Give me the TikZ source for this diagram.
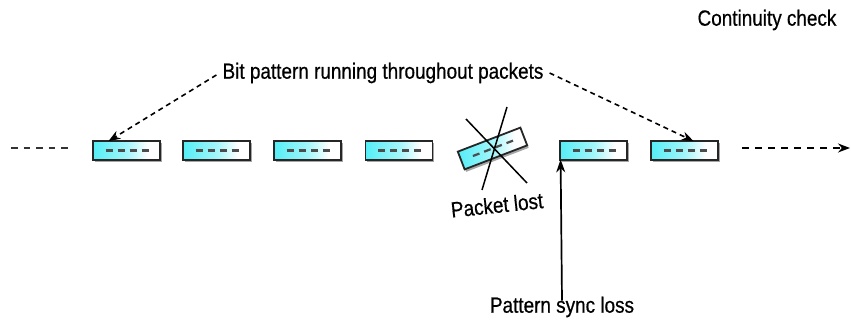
\documentclass[tikz,border=0pt]{standalone}
\usepackage{fontspec}
\setmainfont{Liberation Sans}[FakeStretch=0.86,FakeBold=0.6]
\usetikzlibrary{arrows.meta,shadows}
\definecolor{pc}{HTML}{55EEF6}
\pgfdeclarehorizontalshading{pkt}{100bp}{color(0bp)=(pc);color(25bp)=(pc);color(50bp)=(pc!55);color(66bp)=(white);color(76bp)=(white);color(100bp)=(pc!45)}
\tikzset{
  pkt/.style={draw=black!85, line width=1.8pt, shading=pkt, minimum width=67pt, minimum height=19pt, inner sep=0pt,
    drop shadow={shadow xshift=1.5pt, shadow yshift=-2.5pt, opacity=0.5, fill=black!70}},
  inner/.style={draw=black!70, line width=2.2pt, dash pattern=on 7pt off 5pt},
  lbl/.style={font=\fontsize{22}{26}\selectfont, inner sep=0pt},
  darr/.style={draw=black, line width=1.6pt, dash pattern=on 5pt off 4pt, -{Stealth[length=12pt,width=9pt]}},
  sarr/.style={draw=black, line width=1.7pt, -{Stealth[length=13pt,width=9pt]}},
  xline/.style={draw=black, line width=1.5pt}
}
\begin{document}
\begin{tikzpicture}[x=1pt,y=-1pt]
\useasboundingbox (0,0) rectangle (852,320);
\foreach \n/\x in {p1/126.5,p2/216.5,p3/307.5,p4/399,p6/593.5,p7/684.5}{
  \node[pkt] (\n) at (\x,150.5) {};
  \draw[inner] ([xshift=-21pt]\n.center) -- ([xshift=24pt]\n.center);
}
\node[pkt, rotate=21] (p5) at (492.5,148.5) {};
\draw[inner, rotate around={21:(p5.center)}] ([xshift=-21pt]p5.center) -- ([xshift=24pt]p5.center);
\coordinate (a1) at (466,119); \coordinate (a2) at (527,183);
\coordinate (b1) at (507,107); \coordinate (b2) at (482,190);
\draw[xline] (a1) -- (a2);
\draw[xline] (b1) -- (b2);
\node[lbl, rotate=6] (lost) at (497,205) {Packet lost};
% left and right dashed
\coordinate (l1) at (11,148); \coordinate (l2) at (68,148);
\draw[black!80, line width=1.5pt, dash pattern=on 6.5pt off 6pt] (l1) -- (l2);
\coordinate (r1) at (742,148); \coordinate (r2) at (850,148);
\draw[darr, dash pattern=on 7pt off 6pt] (r1) -- (r2);
% bit pattern label
\node[lbl] (bit) at (383,73) {Bit pattern running throughout packets};
\draw[darr] (bit.west) ++(-6,2) -- ([xshift=-18pt,yshift=-1pt]p1.north);
\draw[darr] (bit.east) ++(6,0) -- ([xshift=9pt,yshift=-1pt]p7.north);
% sync loss
\node[lbl] (sync) at (562,307) {Pattern sync loss};
\draw[sarr] ([yshift=-4pt]sync.north) -- ([xshift=1.5pt,yshift=1.5pt]p6.south west);
\node[lbl] (cc) at (767,20) {Continuity check};
\end{tikzpicture}
\end{document}
